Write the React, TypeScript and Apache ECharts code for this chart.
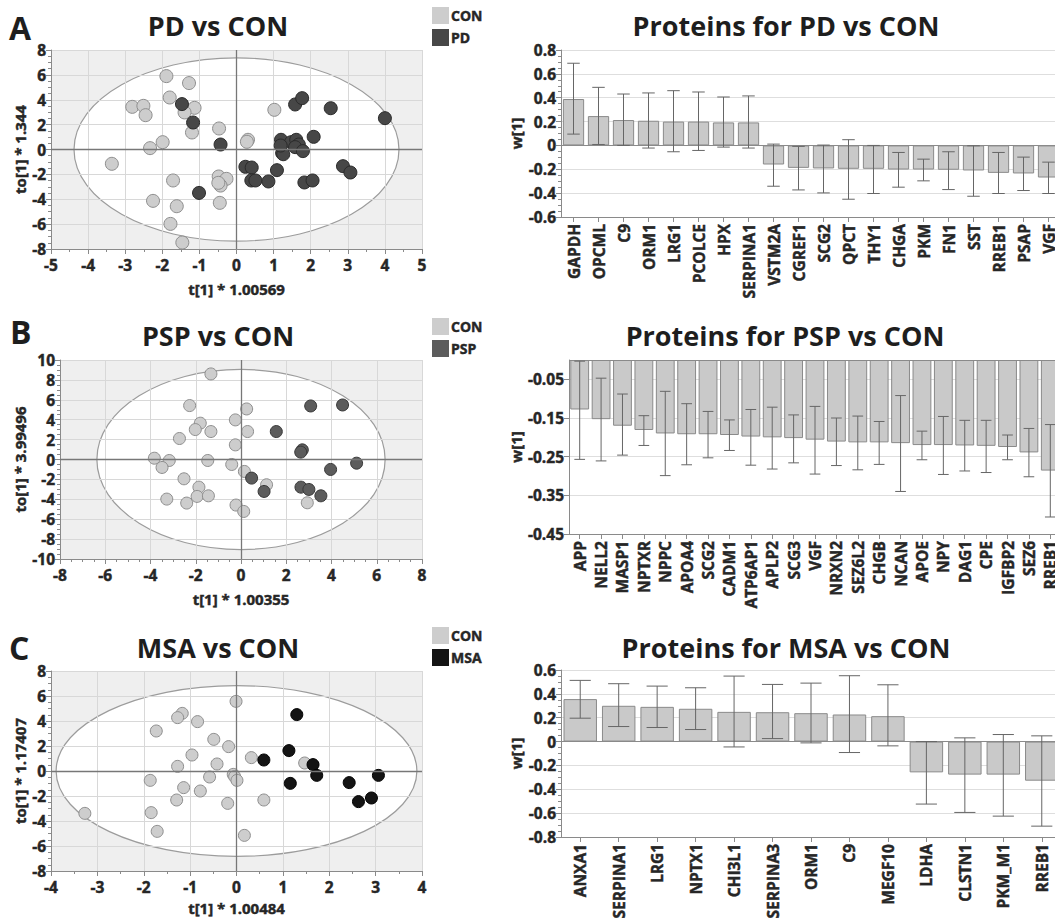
import React, { useEffect, useRef } from 'react';
import * as echarts from 'echarts';

const FONT = '"Open Sans", "Noto Sans", sans-serif';

// ---------- Panel A: PD vs CON (scores) ----------
const pdCon: number[][] = [[-1.89,5.9],[-1.28,5.34],[-1.8,4.18],[-2.81,3.43],[-2.51,3.51],[-2.45,2.76],[-1.13,3.35],[-1.4,2.98],[-1.2,1.37],[-0.47,1.69],[-1.99,0.59],[-2.33,0.11],[-3.36,-1.15],[-1.71,-2.49],[-0.48,-2.17],[-0.27,-2.36],[-0.43,-2.9],[-0.49,-2.68],[-2.25,-4.13],[-1.61,-4.56],[-0.45,-4.29],[-1.78,-5.98],[-1.46,-7.48],[1.02,3.19],[0.31,0.78],[0.28,0.62]];
const pdPd: number[][] = [[-1.47,3.65],[-1.17,2.17],[-0.43,0.4],[-1.01,-3.49],[1.58,3.62],[1.77,4.13],[2.54,3.32],[4.0,2.52],[1.2,0.78],[1.47,0.59],[1.61,0.78],[1.68,0.4],[1.58,0.19],[2.08,1.02],[1.23,-0.29],[1.26,-0.38],[1.79,-0.13],[1.19,0.32],[0.24,-1.39],[0.41,-1.45],[0.4,-2.49],[0.51,-2.49],[0.86,-2.57],[1.09,-1.66],[1.83,-2.65],[2.05,-2.49],[2.87,-1.34],[3.07,-1.85]];
const ellipsePD = [4.38, 7.37];

// ---------- Panel B: PSP vs CON (scores) ----------
const pspCon: number[][] = [[-1.33,8.6],[-2.27,5.42],[0.25,5.08],[-1.8,3.65],[-2.02,3.01],[-1.33,2.81],[-0.25,3.98],[0.29,2.81],[-2.72,2.11],[-0.25,1.47],[-3.83,0.13],[-3.17,-0.1],[-3.49,-0.8],[-1.47,-0.1],[-0.41,-0.5],[0.15,-1.2],[-2.52,-1.94],[1.13,-2.54],[-1.86,-2.78],[-1.94,-3.71],[-1.44,-3.65],[-3.28,-3.98],[-2.4,-4.38],[-0.22,-4.58],[0.12,-5.22],[2.93,-4.35]];
const pspPsp: number[][] = [[3.08,5.38],[4.49,5.48],[1.56,2.81],[2.71,0.97],[2.64,0.74],[5.11,-0.37],[3.96,-1.0],[0.47,-1.87],[1.02,-3.21],[2.65,-2.78],[3.0,-3.01],[3.53,-3.65]];
const ellipsePSP = [6.37, 9.05];

// ---------- Panel C: MSA vs CON (scores) ----------
const msaCon: number[][] = [[-0.01,5.57],[-1.17,4.61],[-1.27,4.27],[-0.84,3.95],[-1.73,3.2],[-0.49,2.53],[-0.17,1.95],[-0.96,1.28],[0.32,1.07],[-1.27,0.37],[-0.42,0.56],[-1.86,-0.75],[-0.58,-0.48],[-0.07,-0.27],[-0.04,-0.45],[0.01,-0.75],[-1.14,-1.33],[-0.78,-1.6],[-1.29,-2.32],[-0.19,-2.59],[0.59,-2.32],[-3.27,-3.39],[-1.84,-3.33],[-1.71,-4.83],[0.17,-5.15],[1.47,0.64]];
const msaMsa: number[][] = [[1.3,4.51],[1.13,1.63],[0.59,0.88],[1.65,0.51],[1.73,-0.35],[1.16,-0.99],[2.43,-0.93],[3.06,-0.35],[2.63,-2.45],[2.91,-2.16]];
const ellipseMSA = [3.89, 6.83];

// ---------- Loadings: PD ----------
const pdProteins = ['GAPDH','OPCML','C9','ORM1','LRG1','PCOLCE','HPX','SERPINA1','VSTM2A','CGREF1','SCG2','QPCT','THY1','CHGA','PKM','FN1','SST','RREB1','PSAP','VGF'];
const pdW = [0.389,0.246,0.213,0.207,0.2,0.2,0.193,0.193,-0.16,-0.188,-0.193,-0.196,-0.196,-0.202,-0.202,-0.204,-0.21,-0.23,-0.235,-0.269];
const pdLow = [0.095,0.008,0.0,-0.022,-0.053,-0.042,-0.014,-0.022,-0.342,-0.373,-0.398,-0.451,-0.403,-0.35,-0.297,-0.37,-0.426,-0.403,-0.378,-0.403];
const pdHigh = [0.689,0.487,0.431,0.44,0.459,0.448,0.406,0.415,0.011,-0.008,0.003,0.048,0.0,-0.059,-0.115,-0.053,-0.003,-0.059,-0.098,-0.14];

// ---------- Loadings: PSP ----------
const pspProteins = ['APP','NELL2','MASP1','NPTXR','NPPC','APOA4','SCG2','CADM1','ATP6AP1','APLP2','SCG3','VGF','NRXN2','SEZ6L2','CHGB','NCAN','APOE','NPY','DAG1','CPE','IGFBP2','SEZ6','RREB1'];
const pspW = [-0.128,-0.153,-0.17,-0.181,-0.19,-0.192,-0.192,-0.194,-0.198,-0.2,-0.202,-0.206,-0.211,-0.213,-0.213,-0.215,-0.22,-0.22,-0.221,-0.222,-0.225,-0.239,-0.286];
const pspLow = [-0.257,-0.261,-0.246,-0.221,-0.299,-0.271,-0.253,-0.234,-0.272,-0.282,-0.266,-0.295,-0.273,-0.284,-0.27,-0.34,-0.258,-0.296,-0.287,-0.291,-0.258,-0.302,-0.406];
const pspHigh = [-0.003,-0.047,-0.088,-0.144,-0.081,-0.113,-0.133,-0.155,-0.128,-0.122,-0.142,-0.12,-0.15,-0.145,-0.159,-0.092,-0.184,-0.146,-0.156,-0.156,-0.194,-0.177,-0.167];

// ---------- Loadings: MSA ----------
const msaProteins = ['ANXA1','SERPINA1','LRG1','NPTX1','CHI3L1','SERPINA3','ORM1','C9','MEGF10','LDHA','CLSTN1','PKM_M1','RREB1'];
const msaW = [0.356,0.3,0.291,0.275,0.249,0.246,0.238,0.227,0.213,-0.258,-0.277,-0.277,-0.328];
const msaLow = [0.196,0.126,0.118,0.101,-0.045,0.025,-0.011,-0.092,-0.036,-0.524,-0.594,-0.625,-0.709];
const msaHigh = [0.513,0.485,0.465,0.451,0.549,0.479,0.49,0.552,0.476,0.0,0.031,0.059,0.048];

const lineCol = '#8a8a8a';
const TXT = '#262626';
const heavy = { textBorderColor: TXT, textBorderWidth: 0.45 };
const labelStyle = { fontFamily: FONT, fontWeight: 'bold' as const, fontSize: 15.5, color: TXT, ...heavy };
const nameStyle = { fontFamily: FONT, fontWeight: 'bold' as const, fontSize: 15, color: TXT, ...heavy };

function valueAxis(gi: number, min: number, max: number, interval: number, name: string, nameGap: number, pos: string, extra: any = {}) {
  return {
    type: 'value', gridIndex: gi, z: 2, position: pos,
    min, max, interval,
    name, nameLocation: 'middle', nameGap,
    nameTextStyle: { ...nameStyle },
    axisLine: { show: true, onZero: false, lineStyle: { color: lineCol, width: 1 } },
    axisTick: { show: true, length: 5, lineStyle: { color: lineCol } },
    minorTick: { show: true, splitNumber: 2, length: 3, lineStyle: { color: lineCol } },
    splitLine: { show: true, lineStyle: { color: '#d8d8d8', width: 1 } },
    axisLabel: { ...labelStyle, margin: 5 },
    ...extra,
  };
}

function catAxis(gi: number, cats: string[]) {
  return {
    type: 'category', gridIndex: gi, data: cats, position: 'bottom', z: 2,
    axisLine: { show: true, onZero: false, lineStyle: { color: lineCol, width: 1 } },
    axisTick: { show: true, alignWithLabel: true, length: 5, lineStyle: { color: lineCol } },
    axisLabel: { ...labelStyle, rotate: 90, interval: 0, margin: 7 },
    splitLine: { show: false },
  };
}

function bgSeries(gi: number, ell: number[], xr: number[], yr: number[]) {
  return {
    type: 'custom', xAxisIndex: gi, yAxisIndex: gi, z: 1, silent: true, clip: false,
    data: [[ell[0], ell[1]]],
    renderItem: (_p: any, api: any) => {
      const a = api.value(0), b = api.value(1);
      const c = api.coord([0, 0]);
      const tl = api.coord([xr[0], yr[1]]);
      const br = api.coord([xr[1], yr[0]]);
      const pa = api.coord([a, 0]);
      const pb = api.coord([0, b]);
      return {
        type: 'group',
        children: [
          { type: 'rect', shape: { x: tl[0], y: tl[1], width: br[0] - tl[0], height: br[1] - tl[1] }, style: { fill: '#efefef' } },
          { type: 'ellipse', shape: { cx: c[0], cy: c[1], rx: pa[0] - c[0], ry: c[1] - pb[1] }, style: { fill: '#ffffff', stroke: '#9c9c9c', lineWidth: 1.2 } },
        ],
      };
    },
  };
}

function scatterSeries(gi: number, name: string, data: number[][], color: string, border: string, size: number, cross: boolean) {
  const s: any = {
    type: 'scatter', name, xAxisIndex: gi, yAxisIndex: gi, z: 3, data,
    symbolSize: size,
    itemStyle: { color, borderColor: border, borderWidth: 1, opacity: 1 },
  };
  if (cross) {
    s.markLine = {
      silent: true, symbol: 'none', label: { show: false }, animation: false,
      lineStyle: { color: '#777', type: 'solid', width: 1.3 },
      data: [{ xAxis: 0 }, { yAxis: 0 }],
    };
  }
  return s;
}

function barSeries(gi: number, name: string, data: number[], gap: string) {
  return {
    type: 'bar', name, xAxisIndex: gi, yAxisIndex: gi, z: 3, data,
    barCategoryGap: gap,
    itemStyle: { color: '#c9c9c9', borderColor: '#8a8a8a', borderWidth: 1 },
    markLine: {
      silent: true, symbol: 'none', label: { show: false },
      lineStyle: { color: '#8a8a8a', type: 'solid', width: 1 },
      data: [{ yAxis: 0 }],
    },
  };
}

function errSeries(gi: number, lo: number[], hi: number[], capRatio: number) {
  return {
    type: 'custom', xAxisIndex: gi, yAxisIndex: gi, z: 5, silent: true,
    data: lo.map((l, i) => [i, l, hi[i]]),
    encode: { x: 0, y: [1, 2] },
    renderItem: (_p: any, api: any) => {
      const i = api.value(0);
      const a = api.coord([i, api.value(1)]);
      const b = api.coord([i, api.value(2)]);
      const half = (api.size([1, 0])[0] * capRatio) / 2;
      const st = { stroke: '#666666', lineWidth: 1 };
      return {
        type: 'group',
        children: [
          { type: 'line', shape: { x1: a[0], y1: a[1], x2: b[0], y2: b[1] }, style: st },
          { type: 'line', shape: { x1: a[0] - half, y1: a[1], x2: a[0] + half, y2: a[1] }, style: st },
          { type: 'line', shape: { x1: b[0] - half, y1: b[1], x2: b[0] + half, y2: b[1] }, style: st },
        ],
      };
    },
  };
}

function txt(text: string, x: number, y: number, size: number, align: string) {
  return {
    type: 'text', x, y, silent: true,
    style: { text, fontFamily: FONT, fontWeight: 'bold', fontSize: size, fill: '#1e1e1e', align, verticalAlign: 'middle' },
  };
}

function legend(names: string[], top: number) {
  return {
    data: names, left: 432, top, orient: 'vertical', padding: 0,
    itemWidth: 17, itemHeight: 17, itemGap: 5, icon: 'rect',
    itemStyle: { borderWidth: 0 },
    textStyle: { fontFamily: FONT, fontWeight: 'bold', fontSize: 14, color: TXT, padding: [0, 0, 0, -3], ...heavy },
    selectedMode: false,
  };
}

export default function App() {
  const ref = useRef<HTMLDivElement>(null);
  useEffect(() => {
    if (!ref.current) return;
    const chart = echarts.init(ref.current, null, { renderer: 'svg' });
    const grids = [
      { left: 51, top: 50, width: 371, height: 199 },
      { left: 561, top: 50, width: 500, height: 167 },
      { left: 60, top: 360, width: 362, height: 199 },
      { left: 569, top: 360, width: 492, height: 174 },
      { left: 51, top: 671, width: 371, height: 200 },
      { left: 561, top: 670, width: 500, height: 167 },
    ].map((g) => ({ ...g, outerBoundsMode: 'none', containLabel: false, show: false }));

    const minor4 = { show: true, splitNumber: 4, length: 3, lineStyle: { color: lineCol } };
    const option: any = {
      animation: false,
      backgroundColor: '#ffffff',
      textStyle: { fontFamily: FONT },
      grid: grids,
      legend: [legend(['CON', 'PD'], 7), legend(['CON', 'PSP'], 318), legend(['CON', 'MSA'], 627)],
      xAxis: [
        valueAxis(0, -5, 5, 1, 't[1] * 1.00569', 32, 'bottom', { axisLabel: { ...labelStyle, margin: 8 } }),
        catAxis(1, pdProteins),
        valueAxis(2, -8, 8, 2, 't[1] * 1.00355', 32, 'bottom', { axisLabel: { ...labelStyle, margin: 8 }, minorTick: minor4 }),
        catAxis(3, pspProteins),
        valueAxis(4, -4, 4, 1, 't[1] * 1.00484', 29, 'bottom', { axisLabel: { ...labelStyle, margin: 8 } }),
        catAxis(5, msaProteins),
      ],
      yAxis: [
        valueAxis(0, -8, 8, 2, 'to[1] * 1.344', 12, 'left', { minorTick: minor4 }),
        valueAxis(1, -0.6, 0.8, 0.2, 'w[1]', 38, 'left', { splitLine: { show: true, lineStyle: { color: '#dedede' } }, minorTick: minor4 }),
        valueAxis(2, -10, 10, 2, 'to[1] * 3.99496', 18, 'left', { minorTick: minor4 }),
        valueAxis(3, -0.45, 0, 0.1, 'w[1]', 46, 'left', {
          splitLine: { show: true, lineStyle: { color: '#dedede' } },
          minorTick: { show: false },
          axisLabel: { ...labelStyle, margin: 5, showMaxLabel: false, formatter: (v: number) => v.toFixed(2) },
        }),
        valueAxis(4, -8, 8, 2, 'to[1] * 1.17407', 12, 'left', { minorTick: minor4 }),
        valueAxis(5, -0.8, 0.6, 0.2, 'w[1]', 38, 'left', { splitLine: { show: true, lineStyle: { color: '#dedede' } }, minorTick: minor4 }),
      ],
      series: [
        bgSeries(0, ellipsePD, [-5, 5], [-8, 8]),
        scatterSeries(0, 'CON', pdCon, '#cdcdcd', '#8e8e8e', 13, true),
        scatterSeries(0, 'PD', pdPd, '#474747', '#2a2a2a', 13, false),
        barSeries(1, 'w[1] PD vs CON', pdW, '15%'),
        errSeries(1, pdLow, pdHigh, 0.5),

        bgSeries(2, ellipsePSP, [-8, 8], [-10, 10]),
        scatterSeries(2, 'CON', pspCon, '#cdcdcd', '#8e8e8e', 12, true),
        scatterSeries(2, 'PSP', pspPsp, '#5c5c5c', '#383838', 12, false),
        barSeries(3, 'w[1] PSP vs CON', pspW, '12%'),
        errSeries(3, pspLow, pspHigh, 0.5),

        bgSeries(4, ellipseMSA, [-4, 4], [-8, 8]),
        scatterSeries(4, 'CON', msaCon, '#cdcdcd', '#8e8e8e', 12, true),
        scatterSeries(4, 'MSA', msaMsa, '#141414', '#000000', 12, false),
        barSeries(5, 'w[1] MSA vs CON', msaW, '13%'),
        errSeries(5, msaLow, msaHigh, 0.55),
      ],
      graphic: [
        txt('A', 9, 27, 32, 'left'),
        txt('B', 10, 331, 32, 'left'),
        txt('C', 9, 647, 32, 'left'),
        txt('PD vs CON', 218, 25, 27, 'center'),
        txt('PSP vs CON', 218, 335, 27, 'center'),
        txt('MSA vs CON', 218, 647, 27, 'center'),
        txt('Proteins for PD vs CON', 786, 25, 27, 'center'),
        txt('Proteins for PSP vs CON', 785, 335, 27, 'center'),
        txt('Proteins for MSA vs CON', 786, 647, 27, 'center'),
      ],
    };
    chart.setOption(option);
    return () => chart.dispose();
  }, []);
  return <div ref={ref} style={{ position: 'absolute', left: 0, top: 0, width: 1055, height: 919 }} />;
}
